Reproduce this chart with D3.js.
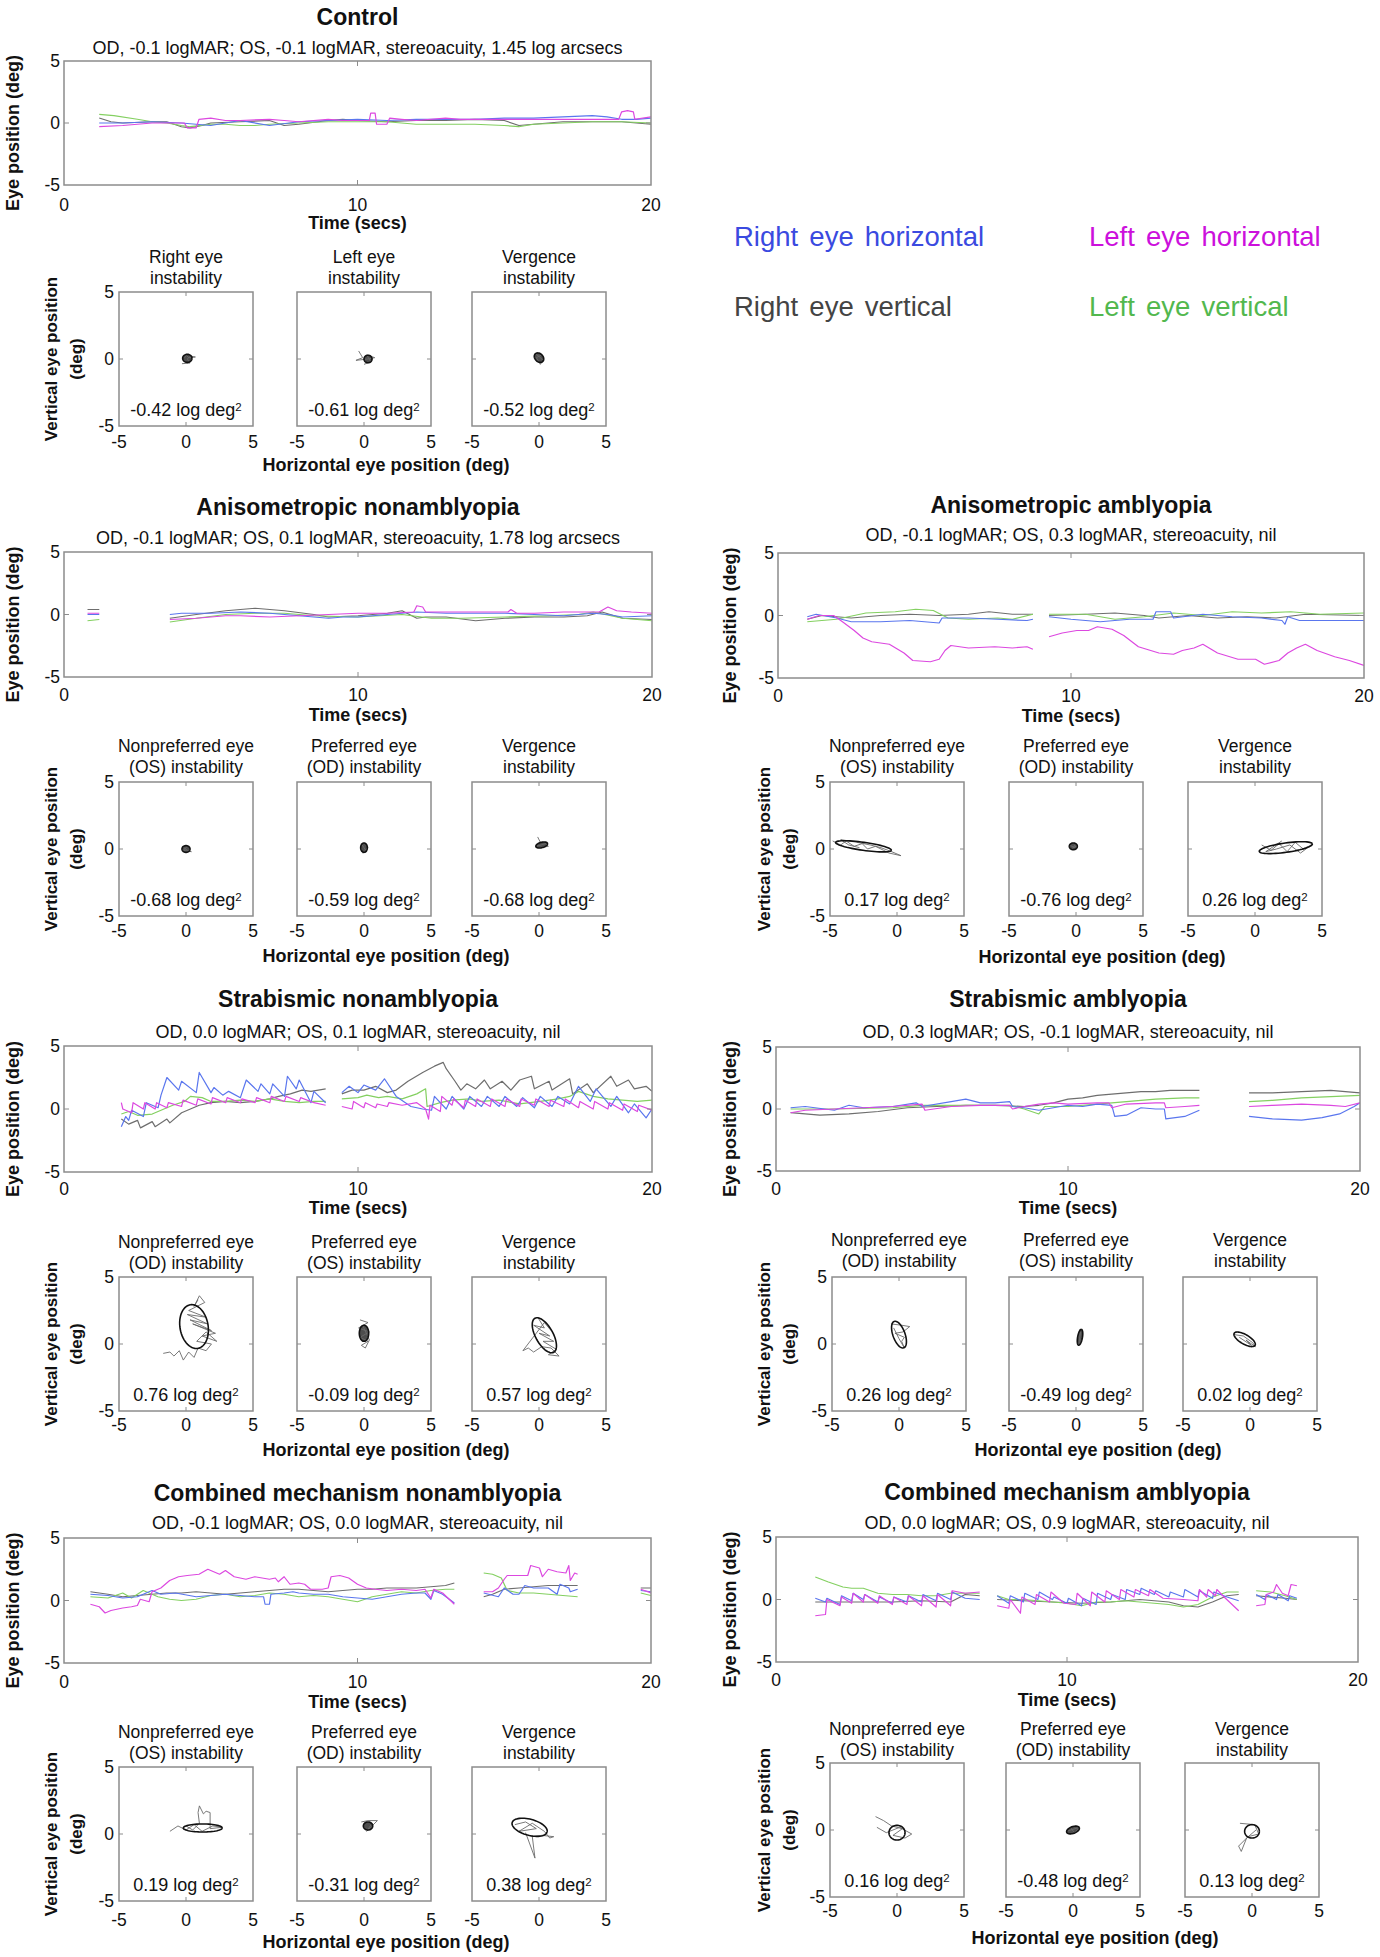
<!DOCTYPE html>
<html><head><meta charset="utf-8">
<script src="https://cdn.jsdelivr.net/npm/d3@7"></script>
<style>body{margin:0;background:#fff}svg{display:block}text{font-family:"Liberation Sans",Arial,sans-serif;fill:#111}</style>
</head><body><svg id="c" width="1380" height="1957"></svg>
<script>
// ---------- tick labels ----------
const timeTicks = [0, 10, 20];
const posTicks = [-5, 0, 5];
const seriesNames = ["Right eye horizontal", "Left eye horizontal", "Right eye vertical", "Left eye vertical"];

// ---------- time traces [t (s), position (deg)], null = gap ----------
const ctrlRH = [[1.2,0],[2,0],[3,0.1],[4,0],[5,-0.2],[5.5,0],[6,0.2],[7,-0.2],[8,0.1],[9,0.2],[10,0.3],[11,0.2],[12,0.3],[13,0.3],[14,0.3],[15,0.4],[16,0.4],[17,0.5],[18,0.6],[18.5,0.5],[19,0.3],[19.5,0.3],[20,0.4]];
const ctrlLH = [[1.2,-0.3],[2,-0.2],[3,0],[4.1,0],[4.2,-0.4],[4.5,-0.4],[4.6,0.3],[5,0.4],[5.5,0.2],[6,0.2],[7,0.3],[7.5,0.2],[8,0.1],[9,0.3],[9.5,0.2],[10,0.2],[10.4,0.2],[10.45,0.8],[10.6,0.8],[10.65,-0.1],[11,-0.1],[11.1,0.4],[11.5,0.3],[12,0.2],[13,0.4],[13.5,0.3],[14,0.3],[15,0.3],[16,0.3],[17,0.3],[18,0.3],[18.9,0.3],[19,0.9],[19.2,1.0],[19.4,0.9],[19.45,0.3],[20,0.5]];
const ctrlRV = [[1.2,0.4],[1.6,0.1],[2,0],[3,0.1],[3.5,0.1],[4,-0.3],[4.3,-0.4],[4.7,-0.2],[5,0],[6,0.1],[7,0.2],[7.5,-0.2],[8,-0.1],[9,0.2],[9.5,0.3],[10,0.2],[11,0.1],[12,0.2],[13,0.2],[14,0.3],[15,0.2],[15.5,-0.2],[16,-0.1],[16.5,0],[17,0.1],[18,0.1],[19,0.1],[20,-0.1]];
const ctrlLV = [[1.2,0.7],[1.7,0.6],[2.5,0.3],[3,0.1],[3.5,0],[4,-0.2],[4.3,-0.3],[5,-0.1],[5.5,-0.1],[6,-0.2],[6.5,-0.2],[7,-0.1],[8,0],[9,0.1],[10,0.1],[11,0.1],[12,-0.1],[13,-0.1],[14,-0.1],[15,-0.2],[15.5,-0.3],[16,-0.1],[17,0],[18,0.1],[19,0.1],[20,0]];

const anRH = [[0.8,0],[1.2,0],null,[3.6,0],[4,0.1],[5,0.1],[6,0.2],[7,0.1],[7.5,0],[8,-0.1],[9,-0.3],[9.5,-0.2],[10,-0.2],[11,0],[12,0.2],[13,0.1],[14,0.1],[15,0.1],[16,0],[17,-0.1],[18,0.1],[18.5,0],[19,-0.2],[20,-0.1]];
const anLH = [[0.8,0.1],[1.2,0.1],null,[3.6,-0.4],[4.5,-0.3],[5.5,-0.1],[6,-0.1],[7,-0.2],[8,-0.1],[9,0],[10,0.1],[11,0.1],[11.9,0.2],[12,0.7],[12.2,0.6],[12.3,0.2],[13,0.2],[14,0.2],[15.1,0.2],[15.2,0.4],[15.4,0.1],[16,0.1],[17,0.2],[18.2,0.2],[18.5,0.6],[18.8,0.3],[19.3,0.2],[20,0.1]];
const anRV = [[0.8,0.4],[1.2,0.4],null,[3.6,-0.3],[4.5,0],[5.5,0.3],[6.5,0.5],[7.5,0.3],[8.5,0],[9,-0.2],[10,-0.1],[11,0.1],[11.5,0.3],[12,-0.3],[12.3,-0.2],[13,-0.2],[14,-0.5],[15,-0.3],[16,-0.2],[17,-0.2],[17.8,-0.1],[18.3,0.2],[19,-0.3],[20,-0.4]];
const anLV = [[0.8,-0.5],[1.2,-0.4],null,[3.6,-0.6],[4.5,-0.3],[5.5,0],[6.5,0.1],[7.5,0.1],[8.5,-0.1],[10,-0.2],[11.5,0],[12.5,-0.3],[13.5,-0.3],[15,-0.2],[16.5,-0.1],[17.5,0],[18,0.2],[19,-0.3],[20,-0.5]];

const aaRH = [[1.0,-0.1],[1.3,0.1],[2,-0.2],[2.5,-0.5],[3.5,-0.5],[4.5,-0.4],[5.5,-0.6],[5.6,-0.2],[6.5,-0.2],[7.5,-0.3],[8.5,-0.4],[8.7,-0.3],null,[9.25,-0.1],[10,-0.3],[11,-0.5],[12,-0.3],[12.8,-0.3],[12.9,0.3],[13.4,0.3],[13.5,-0.2],[14.5,0.1],[15.5,-0.1],[16.5,-0.2],[17.2,-0.4],[17.3,-0.7],[17.4,-0.1],[17.8,-0.4],[20,-0.4]];
const aaLH = [[1.0,-0.3],[1.4,0],[1.9,0],[2.2,-0.5],[2.6,-1.2],[2.9,-1.8],[3.2,-2.1],[3.8,-2.3],[4.3,-3.0],[4.6,-3.6],[5.2,-3.7],[5.5,-3.5],[5.7,-2.8],[5.9,-2.4],[6.5,-2.6],[7.4,-2.5],[8,-2.6],[8.5,-2.5],[8.7,-2.7],null,[9.25,-1.7],[9.7,-1.4],[10.2,-1.2],[10.6,-1.2],[10.9,-0.9],[11.4,-1.1],[11.8,-1.6],[12.3,-2.5],[13,-3.0],[13.5,-3.1],[13.8,-2.8],[14.2,-2.6],[14.5,-2.3],[15,-3.0],[15.7,-3.5],[16.3,-3.5],[16.6,-3.9],[17.1,-3.6],[17.4,-3.0],[17.7,-2.6],[18.0,-2.3],[18.4,-2.8],[19,-3.3],[19.5,-3.6],[20,-4.0]];
const aaRV = [[1.0,-0.3],[1.5,0],[2.5,-0.2],[3.5,0],[4.5,0.1],[5.5,0],[6.5,0.1],[7.2,0.3],[8,0.1],[8.7,0.1],null,[9.25,0],[10.5,0.1],[11.5,0.2],[12.5,0],[13,-0.2],[14,0],[15,-0.2],[16,-0.1],[17,-0.2],[18,0.1],[20,0]];
const aaLV = [[1.0,-0.5],[2,-0.3],[3,0.2],[4,0.3],[4.7,0.5],[5.3,0.4],[5.8,-0.2],[6.5,-0.3],[7.5,-0.2],[8,-0.3],[8.7,0.1],null,[9.25,0.1],[10.5,0.1],[11.5,-0.3],[12.5,-0.1],[13.5,0.2],[14.5,0],[15.5,0.3],[16.5,0.2],[17.5,0.3],[18.5,0.1],[20,0.2]];

const snRH = [[1.95,-1.4],[2.1,-0.6],[2.2,-0.9],[2.3,-0.1],[2.7,-0.6],[2.8,0.5],[3.2,0.1],[3.3,1.1],[3.5,2.5],[3.9,1.5],[4.0,2.2],[4.5,1.3],[4.6,2.9],[5.0,1.3],[5.1,1.7],[5.4,1.1],[5.6,1.4],[6.0,0.9],[6.2,2.3],[6.6,1.4],[6.7,2.0],[7.0,1.2],[7.1,2.0],[7.5,1.0],[7.6,2.6],[7.9,1.6],[8.0,2.3],[8.4,0.5],[8.5,1.4],[8.9,0.5],null,[9.45,1.3],[9.7,1.8],[10.0,1.3],[10.2,1.9],[10.6,1.5],[10.9,2.4],[11.3,1.0],[11.8,0.2],[12.2,0],[12.5,-0.1],[12.6,1.0],[13.0,0],[13.2,1.0],[13.6,0],[13.8,1.0],[14.2,0.2],[14.4,1.0],[14.8,0.2],[15.0,1.0],[15.4,0.2],[15.6,0.9],[16.0,0.1],[16.2,1.0],[16.6,0.2],[16.8,1.0],[17.2,0.4],[17.5,1.8],[17.9,0.6],[18.1,1.6],[18.6,0.2],[18.8,1.0],[19.2,-0.3],[19.4,0.4],[19.8,-0.7],[20,0]];
const snLH = [[1.95,0.5],[2.0,0],[2.3,-0.3],[2.35,0.5],[2.7,0],[2.75,0.5],[3.1,0],[3.15,0.5],[3.5,0.1],[3.55,0.5],[4.0,0.2],[4.05,0.7],[4.5,0.3],[4.55,0.8],[5.0,0.4],[5.05,0.9],[5.5,0.5],[5.55,0.9],[6.0,0.5],[6.05,0.8],[6.5,0.5],[6.55,0.9],[7.0,0.5],[7.05,1.0],[7.5,0.6],[7.55,1.0],[8.0,0.6],[8.05,0.9],[8.5,0.5],[8.9,0.3],null,[9.45,0.2],[9.8,0],[9.85,0.6],[10.2,0.1],[10.25,0.5],[10.6,0.1],[10.65,0.4],[11.0,0.2],[11.05,0.5],[11.5,0.3],[12.0,0.5],[12.3,0],[12.4,-0.8],[12.45,0.3],[12.8,-0.2],[12.85,1.0],[13.2,0.3],[13.25,0.8],[13.6,0.1],[13.65,0.7],[14.0,0.2],[14.05,0.8],[14.5,0.2],[14.55,0.8],[15.0,0.2],[15.05,0.8],[15.5,0.2],[15.55,0.8],[16.0,0.3],[16.05,0.8],[16.5,0.2],[16.55,0.7],[17.0,0.2],[17.05,0.8],[17.5,0.1],[17.55,0.6],[18.0,0],[18.05,0.6],[18.5,0],[18.55,0.5],[19.0,-0.1],[19.05,0.4],[19.5,-0.2],[19.55,0.3],[20,-0.1]];
const snRV = [[1.95,-0.8],[2.2,-1.2],[2.5,-0.9],[2.6,-1.5],[3.0,-1.0],[3.1,-1.4],[3.5,-0.8],[3.6,-1.1],[4.0,-0.3],[4.3,0],[4.6,0.3],[5.0,0.5],[5.5,0.6],[6.0,0.5],[6.5,0.6],[7.0,0.8],[7.3,1.0],[7.7,1.2],[8.1,1.5],[8.4,1.4],[8.9,1.6],null,[9.45,1.2],[9.8,1.5],[10.2,1.5],[10.6,1.8],[11.0,1.3],[11.3,1.5],[11.7,2.2],[12.2,2.9],[12.6,3.4],[12.9,3.7],[13.0,3.2],[13.3,2.2],[13.5,1.5],[13.7,2.0],[14.0,1.6],[14.3,2.3],[14.5,1.6],[14.9,2.2],[15.2,1.5],[15.5,2.3],[15.9,2.6],[16.0,1.6],[16.5,2.2],[16.6,1.5],[17.2,2.4],[17.3,1.2],[17.8,2.0],[18.0,1.3],[18.6,2.6],[18.8,1.8],[19.2,2.3],[19.4,1.6],[19.8,1.8],[20,1.4]];
const snLV = [[1.95,-0.4],[2.2,-0.2],[2.5,-0.5],[3.0,-0.4],[3.3,-0.1],[3.7,0.3],[4.1,0.6],[4.3,1.0],[4.7,0.9],[5.0,0.6],[5.5,0.6],[6.0,0.7],[6.5,0.6],[7.0,0.8],[7.5,0.6],[8.0,0.5],[8.5,0.6],[8.9,0.6],null,[9.45,0.8],[10.0,0.9],[10.3,1.1],[10.7,0.9],[11.0,1.0],[11.5,0.8],[12.0,1.2],[12.3,1.6],[12.35,0.2],[12.8,0.5],[13.2,0.7],[13.8,0.8],[14.2,0.6],[14.8,0.7],[15.5,0.4],[16.2,0.6],[16.8,0.8],[17.2,1.0],[17.5,1.4],[18.0,1.0],[18.5,0.8],[19.0,0.7],[19.5,0.6],[20,0.7]];

const saRH = [[0.5,0.1],[1,0.2],[2,-0.1],[2.5,0.3],[3,0.1],[4,0.2],[4.8,0.5],[5.0,0.2],[6.0,0.6],[6.5,0.8],[7,0.5],[7.5,0.5],[8,0.6],[8.1,0.2],[8.5,0.1],[9,-0.1],[9.5,0.1],[10,0.3],[10.5,0.2],[11,0.4],[11.5,0.3],[11.6,-0.6],[12,-0.5],[12.5,0.1],[13,0],[13.3,0],[13.35,-0.8],[14,-0.6],[14.5,-0.1],null,[16.2,-0.6],[17,-0.8],[18,-0.9],[18.7,-0.7],[19.3,-0.4],[19.8,0.2],[20,0.5]];
const saLH = [[0.5,-0.3],[1,-0.1],[2,0],[3,0.1],[4,0.2],[5,0.4],[5.1,-0.1],[6,0.2],[7,0.3],[8,0.3],[8.1,0],[8.5,0.2],[9,0.4],[9.5,0.5],[10,0.4],[11,0.5],[11.4,0.5],[11.5,0.1],[12,0.4],[13,0.5],[13.3,0.5],[13.35,0.1],[14,0.2],[14.5,0.3],null,[16.2,0.2],[17,0.3],[18,0.4],[19,0.3],[19.5,0.2],[20,0.5]];
const saRV = [[0.5,-0.3],[1.5,-0.5],[2.5,-0.4],[3.5,-0.2],[4.5,0.1],[5.5,0.2],[6.5,0.3],[7.5,0.3],[8.5,0.2],[9.0,0.3],[9.5,0.5],[10.0,0.8],[10.5,0.9],[11.0,1.1],[11.5,1.2],[12.0,1.3],[12.5,1.4],[13.0,1.4],[13.5,1.5],[14.0,1.5],[14.5,1.5],null,[16.2,1.3],[17,1.3],[18,1.4],[19,1.5],[20,1.3]];
const saLV = [[0.5,0],[2,0],[4,0.1],[5,0.3],[6,0.3],[7,0.3],[8,0.3],[8.5,0],[9.0,-0.4],[9.2,0.2],[10,0.2],[11,0.4],[11.5,0.5],[12,0.6],[13,0.8],[14,0.9],[14.5,0.9],null,[16.2,0.6],[17,0.7],[18,0.9],[19,1.0],[20,1.1]];

const cnRH = [[0.9,0.5],[1.5,0.4],[2,0.2],[2.5,0.3],[3,0.8],[3.3,0.5],[3.8,0.6],[4.5,0.3],[5.0,0.4],[5.5,0.5],[6.0,0.4],[6.5,0.3],[6.8,0.3],[6.85,-0.3],[7.0,-0.3],[7.05,0.5],[7.5,0.6],[7.8,0.7],[8.0,0.6],[8.5,0.5],[9.0,0.5],[9.5,0.3],[10.0,0.2],[10.5,0.1],[11,0.3],[11.5,0.5],[12,0.6],[12.3,0.6],[12.5,0.1],[12.6,0.8],[12.9,0.5],[13.3,-0.2],null,[14.3,0.6],[14.8,0.3],[15.0,1.0],[15.3,0.5],[15.5,0.5],[15.7,1.2],[16.0,1.0],[16.5,1.0],[16.8,0.5],[16.9,1.3],[17.2,1.0],[17.25,0.7],[17.5,0.9],null,[19.65,0.8],[20,0.7]];
const cnLH = [[0.9,-0.3],[1.2,-0.5],[1.4,-1.0],[1.6,-0.8],[2.0,-0.6],[2.3,-0.5],[2.5,-0.4],[2.6,0.1],[2.9,-0.1],[3.0,0.7],[3.3,1.0],[3.6,1.6],[3.9,1.9],[4.2,2.0],[4.6,2.1],[4.9,2.5],[5.3,2.1],[5.5,2.4],[5.8,1.9],[6.2,1.7],[6.5,1.9],[7.0,1.7],[7.2,1.8],[7.3,1.5],[7.5,1.9],[7.7,1.3],[8.0,1.4],[8.2,1.3],[8.4,0.9],[8.8,0.9],[9.0,1.0],[9.1,1.9],[9.4,2.0],[9.7,1.8],[10.0,1.3],[10.3,1.0],[10.6,0.9],[11.0,0.8],[11.5,0.9],[12.0,0.8],[12.3,0.9],[12.5,0.2],[12.6,0.9],[12.9,0.6],[13.3,-0.3],null,[14.3,0.7],[14.6,0.7],[14.8,1.0],[15.0,1.7],[15.1,2.0],[15.5,2.0],[15.8,2.0],[15.9,2.8],[16.2,2.6],[16.3,1.9],[16.5,2.5],[16.8,2.3],[17.1,2.2],[17.2,2.8],[17.25,1.6],[17.4,2.2],[17.5,2.1],null,[19.65,0.9],[20,0.6]];
const cnRV = [[0.9,0.7],[1.5,0.5],[2,0.3],[2.5,0.4],[3,0.5],[3.5,0.6],[4,0.6],[4.5,0.7],[5,0.6],[5.5,0.5],[6,0.6],[6.5,0.7],[7,0.8],[7.5,0.9],[8,0.9],[8.5,0.8],[9,0.7],[9.5,0.8],[10,0.9],[10.5,0.9],[11,1.0],[11.5,1.0],[12,1.0],[12.5,1.1],[13,1.2],[13.3,1.4],null,[14.3,0.3],[14.6,0.5],[15,0.9],[15.5,1.0],[16,1.1],[16.5,1.2],[17,1.2],[17.5,1.2],null,[19.65,1.0],[20,1.0]];
const cnLV = [[0.9,0.3],[1.5,0.2],[2,0.6],[2.3,0.2],[2.7,0.8],[3.2,0.3],[3.6,0.1],[4.0,0],[4.5,0.1],[5.0,0.4],[5.5,0.5],[6.0,0.3],[6.5,0.4],[7.0,0.6],[7.5,0.5],[8,0.3],[8.5,0.4],[9,0.3],[9.5,0.1],[10,-0.1],[10.5,0.3],[11.0,0.5],[11.5,0.7],[12,0.6],[12.5,0.8],[13,0.9],[13.3,0.9],null,[14.3,2.2],[14.6,2.1],[14.9,1.8],[15.1,0.8],[15.5,0.6],[16,0.6],[16.5,0.5],[17,0.4],[17.5,0.3],null,[19.65,0.6],[20,0.4]];

const caRH = [[1.35,0.1],[1.7,-0.2],[1.75,0.1],[2.2,-0.4],[2.25,0.3],[2.6,-0.1],[2.65,0.5],[3.0,0],[3.05,0.4],[3.5,-0.2],[3.55,0.2],[4.0,-0.3],[4.05,0.2],[4.5,-0.2],[4.55,0.3],[5.0,-0.2],[5.05,0.4],[5.5,-0.1],[5.55,0.5],[6.0,0],[6.05,0.6],[6.5,0.1],[7.0,0],null,[7.6,0.3],[8.0,-0.3],[8.05,0.3],[8.5,-0.2],[8.55,0.5],[9.0,0],[9.05,0.6],[9.5,0],[9.55,0.2],[10.0,-0.3],[10.05,0.1],[10.5,-0.5],[10.55,0.1],[11.0,-0.4],[11.05,0.5],[11.5,0],[11.55,0.4],[12.0,0],[12.05,0.8],[12.5,0.4],[12.55,0.9],[13.0,0.4],[13.05,0.7],[13.5,0.2],[13.55,0.6],[14.0,0.2],[14.05,0.8],[14.5,0.2],[14.55,0.7],[15.0,0.1],[15.05,0.6],[15.5,0.2],[15.9,-0.1],null,[16.5,0.4],[16.8,0],[16.85,0.4],[17.2,0],[17.25,0.4],[17.6,-0.1],[17.65,0.3],[17.9,0.1]];
const caLH = [[1.35,-1.3],[1.7,-1.2],[1.75,0],[2.2,-0.5],[2.25,0.2],[2.6,-0.3],[2.65,0.5],[3.0,-0.2],[3.05,0.4],[3.5,-0.3],[3.55,0.3],[4.0,-0.4],[4.05,0.2],[4.5,-0.4],[4.55,0.3],[5.0,-0.5],[5.05,0.3],[5.5,-0.6],[5.55,0.4],[6.0,-0.5],[6.05,0.7],[6.5,0.5],[7.0,0.6],null,[7.6,-0.5],[8.0,-0.7],[8.05,0],[8.4,-1.1],[8.45,0.2],[8.9,-0.4],[8.95,0.4],[9.4,-0.2],[9.45,0.6],[9.9,-0.3],[10.3,-0.4],[10.35,0.5],[10.8,-0.5],[10.85,0.6],[11.3,-0.2],[11.35,0.7],[11.8,0],[11.85,0.8],[12.3,0.2],[12.35,0.8],[12.8,0.3],[12.85,0.8],[13.3,0.1],[14.0,0],[14.5,-0.1],[14.55,0.8],[14.8,0.2],[14.85,0.8],[15.1,0.3],[15.15,0.8],[15.4,0.2],[15.9,-0.9],null,[16.5,-0.5],[16.8,-0.4],[16.85,0.4],[17.1,0.6],[17.2,1.2],[17.4,0.5],[17.6,0.3],[17.7,1.2],[17.9,1.1]];
const caRV = [[1.35,-0.2],[2,-0.2],[3,-0.2],[4,-0.2],[5,-0.1],[6,-0.2],[6.5,0.4],[7,0.3],null,[7.6,0],[8.5,-0.1],[9.5,-0.2],[10.5,-0.3],[11.5,-0.2],[12.5,0],[13.5,-0.2],[14,-0.5],[14.5,-0.6],[15,-0.2],[15.5,0.3],[15.9,0.4],null,[16.5,0.3],[17.5,0.1],[17.9,0]];
const caLV = [[1.35,1.8],[1.8,1.4],[2.3,1.0],[2.6,0.9],[3.0,0.9],[3.5,0.5],[4.0,0.4],[4.5,0.4],[5.0,0.3],[5.5,0.3],[6.0,0.5],[6.5,0.5],[7.0,0.5],null,[7.6,0.3],[8,0],[8.5,0],[9,-0.1],[9.5,-0.2],[10,-0.3],[10.5,-0.5],[11,-0.2],[11.5,-0.2],[12,-0.1],[12.5,-0.2],[13,-0.3],[13.5,-0.4],[14,-0.6],[14.5,-0.4],[15,0.2],[15.5,0.6],[15.9,0.6],null,[16.5,0.7],[17,0.6],[17.5,0.3],[17.9,0]];

// ---------- scatter (2D eye position) traces [x, y] ----------
const sc1 = [[-0.3,-0.35],[0.3,-0.3],[0.1,0],[0.3,0.2],[0.7,0.15],[0.2,0.1],[0,0.3],[-0.1,0.1]];
const sc2 = [[-0.4,0.6],[-0.1,0.1],[-0.6,-0.1],[0.3,0],[0.8,0.1],[0.2,0.3],[0.5,-0.2],[0.0,-0.4]];
const sc3 = [[-0.3,0.4],[0,0.2],[0.3,-0.1],[0.1,-0.4],[-0.2,0.1],[0.2,0.3]];
const sc4 = [[-0.3,0.2],[0.1,-0.1],[0.4,-0.2],[-0.2,-0.1],[0.1,0.2]];
const sc5 = [[-0.2,0.4],[0,0.1],[0.2,-0.2],[-0.1,-0.3],[0.3,0.1]];
const sc6 = [[-0.1,0.9],[0.1,0.5],[-0.2,0.2],[0.5,0.4],[0.7,0.2],[0,0.1]];
const sc7 = [[-4.8,0.6],[-4.2,0.3],[-3.8,0.6],[-3.2,0.2],[-2.6,0.4],[-2.2,0],[-1.6,0.2],[-1.0,-0.1],[-0.6,-0.3],[0.3,-0.5],[-0.4,-0.2],[-1.2,0.1],[-2.0,0.3],[-3,0.5],[-4.2,0.7],[-3.6,0.3],[-2.8,0.1]];
const sc8 = [[-0.5,0.3],[-0.1,0.1],[0.1,0.3],[-0.3,0],[0,0.4]];
const sc9 = [[0.5,0.3],[1.2,-0.1],[1.8,0.4],[2.4,-0.2],[3.0,0.5],[3.6,0],[4.2,0.3],[3.4,-0.3],[2.6,0.3],[1.6,0.0],[0.8,-0.2],[2.0,0.6]];
const sc10 = [[0.9,3.3],[0.6,2.8],[1.0,3.6],[1.4,3.1],[0.2,2.5],[1.5,2.0],[0.1,2.2],[1.6,1.5],[0.3,1.8],[1.9,1.0],[0.5,1.5],[2.2,0.8],[1.2,0.6],[2.3,0.2],[1.5,0.9],[0.8,0.2],[1.9,0],[1.5,-0.5],[0.9,-0.3],[0.6,-1.0],[0.2,-0.6],[-0.2,-1.2],[-0.5,-0.5],[-0.9,-0.9],[-1.2,-0.6],[-1.7,-0.7]];
const sc11 = [[-0.3,1.8],[0.3,1.6],[-0.4,1.2],[0.4,0.9],[-0.3,0.5],[0.3,0.2],[-0.2,-0.1],[0.1,-0.3],[0.4,0.3],[-0.1,1.4]];
const sc12 = [[-0.1,2.0],[0.4,1.2],[-0.4,1.4],[0.8,0.6],[0,0.8],[1.1,0.2],[0.3,0.2],[1.3,-0.4],[0.7,-0.8],[1.5,-0.9],[0.9,-0.3],[0.2,-0.2],[-0.4,-0.6],[-0.8,-0.3],[-1.2,-0.5],[0.4,1.6],[0.9,1.0]];
const sc13 = [[-0.6,1.5],[0.2,1.4],[0.8,1.3],[0.3,0.9],[-0.3,0.8],[0.4,0.5],[0.2,0.2],[0.4,-0.3],[0.0,0.4],[-0.4,1.2]];
const sc14 = [[0.3,1.1],[0.2,0.5],[0.4,0.3],[0.2,-0.1],[0.35,0.9]];
const sc15 = [[-1.2,0.7],[-0.5,0.6],[0.2,0.1],[0.4,-0.2],[-0.3,0.3],[0.1,-0.1],[-0.8,0.5]];
const sc16 = [[-1.2,0.2],[-0.6,0.6],[0,0.3],[0.6,0.7],[1.2,0.2],[2.0,0.6],[2.7,0.5],[1.8,0.4],[1.8,1.6],[1.5,1.7],[1.3,1.5],[1.0,2.1],[0.9,1.6],[1.0,0.8],[0.5,0.3],[0,0.6]];
const sc17 = [[-0.2,0.9],[0.3,1.0],[1.0,1.0],[0.5,0.5],[0.2,0.2],[0.6,0.8]];
const sc18 = [[-1.8,0.7],[-1.0,0.9],[-0.2,0.4],[-1.5,0.2],[-0.5,0.8],[0.4,0.2],[0.8,-0.3],[1.1,-0.2],[0.2,-0.1],[-0.5,-0.2],[-0.3,-1.8],[-1.0,0.1]];
const sc19 = [[-1.6,1.0],[-1.0,0.7],[-0.4,0.3],[0.4,0.1],[-0.3,-0.4],[0.6,-0.6],[1.1,-0.3],[0.2,0.2],[-0.8,-0.2],[-1.5,0.2]];
const sc20 = [[-0.5,-0.1],[0.5,0.2],[0.1,-0.2],[-0.2,0.2]];
const sc21 = [[-0.9,0.5],[0.2,0.4],[0.5,-0.3],[-0.3,-0.5],[-1.0,-1.2],[-0.8,-1.6],[-0.4,-0.6],[0.3,0]];

// ellipses: [cx, cy, semi-major, semi-minor, angle deg]
const ellipses = [
  [0.1,0.05,0.35,0.3,0],[0.3,0,0.3,0.28,0],[0,0.1,0.4,0.3,-45],
  [0,0,0.3,0.25,0],[0,0.1,0.35,0.25,90],[0.2,0.3,0.45,0.2,15],
  [-2.5,0.2,2.1,0.3,-8],[-0.2,0.2,0.3,0.25,0],[2.3,0.1,2.0,0.35,8],
  [0.6,1.3,1.65,1.05,100],[0,0.8,0.6,0.35,90],[0.4,0.65,1.45,0.65,-61],
  [0,0.7,1.05,0.45,-70],[0.3,0.5,0.6,0.18,80],[-0.4,0.35,0.9,0.35,-30],
  [1.25,0.45,1.45,0.3,0],[0.3,0.6,0.35,0.3,0],[-0.7,0.5,1.35,0.6,-15],
  [0,-0.2,0.6,0.55,0],[0,0,0.5,0.25,20],[0,-0.1,0.55,0.5,0]
];
const bceaValues = ["-0.42","-0.61","-0.52","-0.68","-0.59","-0.68","0.17","-0.76","0.26","0.76","-0.09","0.57","0.26","-0.49","0.02","0.19","-0.31","0.38","0.16","-0.48","0.13"];

// ---------- text ----------
const titles = ["Control","Anisometropic nonamblyopia","Anisometropic amblyopia","Strabismic nonamblyopia","Strabismic amblyopia","Combined mechanism nonamblyopia","Combined mechanism amblyopia"];
const subtitles = ["OD, -0.1 logMAR; OS, -0.1 logMAR, stereoacuity, 1.45 log arcsecs","OD, -0.1 logMAR; OS, 0.1 logMAR, stereoacuity, 1.78 log arcsecs","OD, -0.1 logMAR; OS, 0.3 logMAR, stereoacuity, nil","OD, 0.0 logMAR; OS, 0.1 logMAR, stereoacuity, nil","OD, 0.3 logMAR; OS, -0.1 logMAR, stereoacuity, nil","OD, -0.1 logMAR; OS, 0.0 logMAR, stereoacuity, nil","OD, 0.0 logMAR; OS, 0.9 logMAR, stereoacuity, nil"];
const scatterTitles = [
  [["Right eye","instability"],["Left eye","instability"],["Vergence","instability"]],
  [["Nonpreferred eye","(OS) instability"],["Preferred eye","(OD) instability"],["Vergence","instability"]],
  [["Nonpreferred eye","(OS) instability"],["Preferred eye","(OD) instability"],["Vergence","instability"]],
  [["Nonpreferred eye","(OD) instability"],["Preferred eye","(OS) instability"],["Vergence","instability"]],
  [["Nonpreferred eye","(OD) instability"],["Preferred eye","(OS) instability"],["Vergence","instability"]],
  [["Nonpreferred eye","(OS) instability"],["Preferred eye","(OD) instability"],["Vergence","instability"]],
  [["Nonpreferred eye","(OS) instability"],["Preferred eye","(OD) instability"],["Vergence","instability"]]
];

const timeData = [
  [ctrlRH,ctrlLH,ctrlRV,ctrlLV],[anRH,anLH,anRV,anLV],[aaRH,aaLH,aaRV,aaLV],
  [snRH,snLH,snRV,snLV],[saRH,saLH,saRV,saLV],[cnRH,cnLH,cnRV,cnLV],[caRH,caLH,caRV,caLV]
];
const scatterData = [sc1,sc2,sc3,sc4,sc5,sc6,sc7,sc8,sc9,sc10,sc11,sc12,sc13,sc14,sc15,sc16,sc17,sc18,sc19,sc20,sc21];

// ---------- layout ----------
const lineColors = ["#5a76ee","#dc48e0","#6e6e6e","#84d061"];
const legendColors = ["#3a4ae0","#cc10dc","#444444","#52b84e"];
const L = [
  {x0:64,x1:651,y0:61,y1:185,tt:17,st:48,tk:205,xl:223,yl:13,
   s:{xs:[119,297,472],y0:292,tl:257,tk:442,hl:465,hx:386,yl1:51,yl2:76}},
  {x0:64,x1:652,y0:552,y1:677,tt:507,st:538,tk:695,xl:715,yl:13,
   s:{xs:[119,297,472],y0:782,tl:746,tk:931,hl:956,hx:386,yl1:51,yl2:76}},
  {x0:778,x1:1364,y0:553,y1:678,tt:505,st:535,tk:696,xl:716,yl:730,
   s:{xs:[830,1009,1188],y0:782,tl:746,tk:931,hl:957,hx:1102,yl1:764,yl2:789}},
  {x0:64,x1:652,y0:1046,y1:1172,tt:999,st:1032,tk:1189,xl:1208,yl:13,
   s:{xs:[119,297,472],y0:1277,tl:1242,tk:1425,hl:1450,hx:386,yl1:51,yl2:76}},
  {x0:776,x1:1360,y0:1047,y1:1171,tt:999,st:1032,tk:1189,xl:1208,yl:730,
   s:{xs:[832,1009,1183],y0:1277,tl:1240,tk:1425,hl:1450,hx:1098,yl1:764,yl2:789}},
  {x0:64,x1:651,y0:1538,y1:1663,tt:1493,st:1523,tk:1682,xl:1702,yl:13,
   s:{xs:[119,297,472],y0:1767,tl:1732,tk:1920,hl:1942,hx:386,yl1:51,yl2:76}},
  {x0:776,x1:1358,y0:1537,y1:1662,tt:1492,st:1523,tk:1680,xl:1700,yl:730,
   s:{xs:[830,1006,1185],y0:1763,tl:1729,tk:1911,hl:1938,hx:1095,yl1:764,yl2:789}}
];
const SBOX = 134;

const svg = d3.select("#c");
svg.append("rect").attr("width",1380).attr("height",1957).attr("fill","#fff");
const defs = svg.append("defs");

function txt(g, x, y, s, size, opts={}) {
  return g.append("text").attr("x",x).attr("y",y).attr("dy","0.35em")
    .attr("text-anchor",opts.anchor||"middle").attr("font-size",size)
    .attr("font-weight",opts.bold?"bold":"normal").text(s);
}

L.forEach((c, i) => {
  const g = svg.append("g");
  const x = d3.scaleLinear().domain([0,20]).range([c.x0,c.x1]);
  const y = d3.scaleLinear().domain([-5,5]).range([c.y1,c.y0]);
  const cid = "clipT"+i;
  defs.append("clipPath").attr("id",cid).append("rect")
    .attr("x",c.x0).attr("y",c.y0).attr("width",c.x1-c.x0).attr("height",c.y1-c.y0);
  txt(g,(c.x0+c.x1)/2,c.tt,titles[i],23,{bold:true});
  txt(g,(c.x0+c.x1)/2,c.st,subtitles[i],18);
  const line = d3.line().defined(d=>d!==null).x(d=>x(d[0])).y(d=>y(d[1]));
  const order = [2,3,0,1];
  const lg = g.append("g").attr("clip-path",`url(#${cid})`);
  order.forEach(k => {
    lg.append("path").datum(timeData[i][k]).attr("d",line).attr("fill","none")
      .attr("stroke",lineColors[k]).attr("stroke-width",1.2).attr("stroke-linejoin","round");
  });
  g.append("rect").attr("x",c.x0).attr("y",c.y0).attr("width",c.x1-c.x0).attr("height",c.y1-c.y0)
    .attr("fill","none").attr("stroke","#8c8c8c").attr("stroke-width",1.5);
  g.append("line").attr("x1",x(10)).attr("x2",x(10)).attr("y1",c.y0).attr("y2",c.y0+5).attr("stroke","#8c8c8c");
  g.append("line").attr("x1",x(10)).attr("x2",x(10)).attr("y1",c.y1).attr("y2",c.y1-5).attr("stroke","#8c8c8c");
  g.append("line").attr("x1",c.x0).attr("x2",c.x0+5).attr("y1",y(0)).attr("y2",y(0)).attr("stroke","#8c8c8c");
  g.append("line").attr("x1",c.x1).attr("x2",c.x1-5).attr("y1",y(0)).attr("y2",y(0)).attr("stroke","#8c8c8c");
  timeTicks.forEach(t => txt(g,x(t),c.tk,String(t),17.5));
  posTicks.slice().reverse().forEach(v => txt(g,c.x0-4,y(v),String(v),17.5,{anchor:"end"}));
  txt(g,(c.x0+c.x1)/2,c.xl,"Time (secs)",18,{bold:true});
  txt(g,c.yl,(c.y0+c.y1)/2+10,"Eye position (deg)",18,{bold:true})
    .attr("transform",`rotate(-90,${c.yl},${(c.y0+c.y1)/2+10})`);

  const s = c.s;
  s.xs.forEach((sx, j) => {
    const idx = i*3+j;
    const xs = d3.scaleLinear().domain([-5,5]).range([sx, sx+SBOX]);
    const ys = d3.scaleLinear().domain([-5,5]).range([s.y0+SBOX, s.y0]);
    const sg = g.append("g");
    const scid = "clipS"+idx;
    defs.append("clipPath").attr("id",scid).append("rect").attr("x",sx).attr("y",s.y0).attr("width",SBOX).attr("height",SBOX);
    txt(sg, sx+SBOX/2, s.tl, scatterTitles[i][j][0], 17.5);
    txt(sg, sx+SBOX/2, s.tl+21, scatterTitles[i][j][1], 17.5);
    const inner = sg.append("g").attr("clip-path",`url(#${scid})`);
    const sline = d3.line().x(d=>xs(d[0])).y(d=>ys(d[1]));
    const [cx,cy,a,b,ang] = ellipses[idx];
    const th = ang*Math.PI/180;
    const pts = d3.range(0,361,6).map(dg => {
      const t = dg*Math.PI/180;
      return [cx + a*Math.cos(t)*Math.cos(th) - b*Math.sin(t)*Math.sin(th),
              cy + a*Math.cos(t)*Math.sin(th) + b*Math.sin(t)*Math.cos(th)];
    });
    const small = a*b < 0.25;
    inner.append("path").datum(pts).attr("d",sline)
      .attr("fill", small ? "#4d4d4d" : "none").attr("stroke","none");
    inner.append("path").datum(scatterData[idx]).attr("d",sline).attr("fill","none")
      .attr("stroke","#6a6a6a").attr("stroke-width",0.9).attr("stroke-linejoin","round");
    inner.append("path").datum(pts).attr("d",sline).attr("fill","none")
      .attr("stroke","#111").attr("stroke-width",1.6);
    sg.append("rect").attr("x",sx).attr("y",s.y0).attr("width",SBOX).attr("height",SBOX)
      .attr("fill","none").attr("stroke","#8c8c8c").attr("stroke-width",1.5);
    [[xs(0),s.y0,xs(0),s.y0+4],[xs(0),s.y0+SBOX,xs(0),s.y0+SBOX-4],[sx,ys(0),sx+4,ys(0)],[sx+SBOX,ys(0),sx+SBOX-4,ys(0)]]
      .forEach(l => sg.append("line").attr("x1",l[0]).attr("y1",l[1]).attr("x2",l[2]).attr("y2",l[3]).attr("stroke","#8c8c8c"));
    const vt = sg.append("text").attr("x",sx+SBOX/2).attr("y",ys(-3.8)).attr("dy","0.35em")
      .attr("text-anchor","middle").attr("font-size",18);
    vt.append("tspan").text(bceaValues[idx]+" log deg");
    vt.append("tspan").attr("dy","-0.45em").attr("font-size",11.5).text("2");
    posTicks.forEach(v => txt(sg, xs(v), s.tk, String(v), 17.5));
    if (j===0) posTicks.forEach(v => txt(sg, sx-5, ys(v), String(v), 17.5, {anchor:"end"}));
  });
  txt(g, s.hx, s.hl, "Horizontal eye position (deg)", 18, {bold:true});
  const my = s.y0+SBOX/2;
  txt(g, s.yl1, my, "Vertical eye position", 17, {bold:true}).attr("transform",`rotate(-90,${s.yl1},${my})`);
  txt(g, s.yl2, my, "(deg)", 17, {bold:true}).attr("transform",`rotate(-90,${s.yl2},${my})`);
});

// legend
const legendPos = [[734,236],[1089,236],[734,306],[1089,306]];
seriesNames.forEach((n,k) => {
  svg.append("text").attr("x",legendPos[k][0]).attr("y",legendPos[k][1]).attr("dy","0.35em")
    .attr("font-size",27.5).attr("word-spacing",3.5).style("fill",legendColors[k]).text(n);
});
</script></body></html>
